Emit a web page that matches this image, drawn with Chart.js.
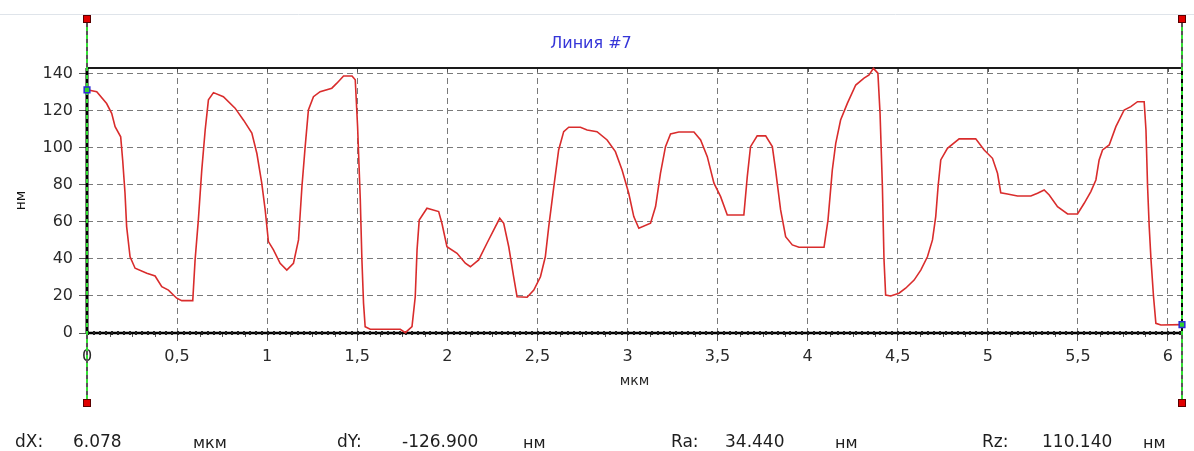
<!DOCTYPE html>
<html>
<head>
<meta charset="utf-8">
<script src="https://cdn.jsdelivr.net/npm/chart.js@4.4.1/dist/chart.umd.min.js"></script>
<style>
  html, body { margin: 0; padding: 0; background: #ffffff; }
  #wrap { width: 1194px; height: 451px; position: relative; }
  canvas { display: block; }
</style>
</head>
<body>
<div id="wrap"><canvas id="profile" width="1194" height="451"></canvas></div>
<script>
// Profile along line #7: position (µm) and height (nm)
const positionsUm = [
  0, 0.054, 0.109, 0.137, 0.156, 0.187, 0.198, 0.211, 0.22, 0.239,
  0.267, 0.332, 0.378, 0.415, 0.452, 0.498, 0.526, 0.587, 0.6, 0.618,
  0.637, 0.656, 0.674, 0.702, 0.757, 0.822, 0.869, 0.915, 0.943, 0.97,
  0.989, 1.007, 1.035, 1.072, 1.109, 1.146, 1.174, 1.193, 1.211, 1.229,
  1.257, 1.294, 1.359, 1.387, 1.424, 1.471, 1.489, 1.502, 1.517, 1.526,
  1.535, 1.544, 1.572, 1.739, 1.767, 1.804, 1.822, 1.832, 1.844, 1.887,
  1.952, 1.97, 1.998, 2.054, 2.1, 2.128, 2.174, 2.22, 2.267, 2.291,
  2.313, 2.341, 2.368, 2.387, 2.443, 2.48, 2.517, 2.544, 2.563, 2.591,
  2.618, 2.646, 2.674, 2.739, 2.776, 2.831, 2.887, 2.933, 2.97, 3.007,
  3.035, 3.063, 3.128, 3.156, 3.183, 3.211, 3.239, 3.285, 3.369, 3.406,
  3.443, 3.48, 3.517, 3.554, 3.646, 3.665, 3.683, 3.72, 3.767, 3.804,
  3.822, 3.85, 3.878, 3.915, 3.952, 4.091, 4.113, 4.137, 4.156, 4.183,
  4.221, 4.267, 4.313, 4.341, 4.365, 4.39, 4.402, 4.415, 4.424, 4.433,
  4.461, 4.507, 4.544, 4.591, 4.628, 4.665, 4.693, 4.711, 4.724, 4.739,
  4.776, 4.841, 4.933, 4.98, 5.026, 5.054, 5.072, 5.109, 5.165, 5.239,
  5.276, 5.313, 5.341, 5.387, 5.443, 5.498, 5.535, 5.572, 5.6, 5.618,
  5.637, 5.674, 5.711, 5.757, 5.794, 5.831, 5.868, 5.878, 5.887, 5.896,
  5.906, 5.92, 5.933, 5.961, 6.078
];
const heightsNm = [
  131.4, 130.4, 124, 118.7, 111.5, 106, 93.5, 75.5, 57.5, 41.2,
  35, 32.3, 30.8, 25, 23.2, 18.8, 17.5, 17.5, 39.5, 61,
  88, 109.7, 126, 129.9, 127.7, 121.5, 115, 108, 97, 81,
  66.5, 49.4, 44.9, 37.7, 34, 37.7, 50.3, 79, 100.7, 120.5,
  127.7, 130.4, 132.3, 135, 138.9, 138.9, 136.8, 111.5, 71.9, 39.5,
  16, 3.4, 2, 2, 0.2, 3.4, 19.6, 44.9, 61, 67.4,
  65.6, 59.3, 46.6, 43.1, 37.7, 35.8, 39.5, 48.5, 57.5, 62,
  59.3, 46.6, 30.4, 19.6, 19.3, 23.2, 30.4, 41.2, 57.5, 79,
  98.9, 108.8, 111.2, 111.2, 109.7, 108.8, 104.3, 98, 88.1, 75.5,
  62.9, 56.6, 59.3, 68.3, 86.3, 100.7, 107.6, 108.6, 108.6, 104.3,
  95.3, 81, 73.7, 63.8, 63.8, 84.5, 100.7, 106.5, 106.5, 100.7,
  88.1, 66.5, 52, 47.6, 46.3, 46.3, 61, 88.1, 102.5, 115.1,
  124.2, 134, 137.7, 139.5, 143, 140.4, 118.7, 79, 39.5, 20.5,
  20, 21.5, 24.2, 28.6, 34, 41.2, 50.3, 62.9, 79, 93.5,
  99.8, 104.9, 104.9, 98.9, 94.4, 86.3, 75.8, 75.1, 74, 74,
  75.5, 77.3, 74.6, 68.3, 64.3, 64.3, 70.1, 76.4, 82.7, 93.5,
  98.9, 101.6, 111.5, 120.5, 122.3, 125, 125, 109.7, 79, 57.5,
  39.5, 19.6, 5.2, 4.3, 4.5
];

const xTickValues = [0, 0.5, 1, 1.5, 2, 2.5, 3, 3.5, 4, 4.5, 5, 5.5, 6];
const yTickValues = [0, 20, 40, 60, 80, 100, 120, 140];

// Measurement readouts shown under the plot
const readoutLabels = ['dX:', 'dY:', 'Ra:', 'Rz:'];
const readoutValues = ['6.078', '-126.900', '34.440', '110.140'];
const readoutUnits = ['мкм', 'нм', 'нм', 'нм'];

const FONT = 'DejaVu Sans';
const lastIndex = positionsUm.length - 1;

// Frame, cursor lines and minor ticks around the plot area
const framePlugin = {
  id: 'profileFrame',
  beforeDatasetsDraw(chart) {
    const { ctx, chartArea: a, scales: { x } } = chart;
    ctx.save();
    // thin separator at the very top
    ctx.strokeStyle = '#dfe4ea';
    ctx.lineWidth = 1;
    ctx.beginPath(); ctx.moveTo(0, 14.5); ctx.lineTo(chart.width, 14.5); ctx.stroke();

    // minor ticks under the x axis
    ctx.strokeStyle = '#555';
    ctx.lineWidth = 1;
    for (let v = 0.125; v < x.max; v += 0.125) {
      if (Math.abs(v / 0.5 - Math.round(v / 0.5)) < 1e-6) continue;
      const px = Math.round(x.getPixelForValue(v)) + 0.5;
      ctx.beginPath(); ctx.moveTo(px, a.bottom); ctx.lineTo(px, a.bottom + 4); ctx.stroke();
    }
    // short marks on the top edge at major positions
    xTickValues.forEach(v => {
      const px = Math.round(x.getPixelForValue(v)) + 0.5;
      ctx.beginPath(); ctx.moveTo(px, a.top); ctx.lineTo(px, a.top + 4); ctx.stroke();
    });

    // plot frame
    ctx.strokeStyle = '#1a1a1a';
    ctx.lineWidth = 2;
    ctx.beginPath(); ctx.moveTo(a.left, a.top); ctx.lineTo(a.right, a.top); ctx.stroke();
    ctx.lineWidth = 3;
    ctx.strokeStyle = '#000';
    ctx.beginPath(); ctx.moveTo(a.left, a.top); ctx.lineTo(a.left, a.bottom); ctx.stroke();
    ctx.lineWidth = 2;
    ctx.beginPath(); ctx.moveTo(a.right, a.top); ctx.lineTo(a.right, a.bottom); ctx.stroke();
    // bottom axis: heavy textured black line
    ctx.lineWidth = 2.5;
    ctx.beginPath(); ctx.moveTo(a.left, a.bottom); ctx.lineTo(a.right, a.bottom); ctx.stroke();
    ctx.lineWidth = 4;
    ctx.strokeStyle = '#222';
    ctx.setLineDash([2, 4]);
    ctx.beginPath(); ctx.moveTo(a.left, a.bottom); ctx.lineTo(a.right, a.bottom); ctx.stroke();
    ctx.setLineDash([]);

    // measurement cursors at the profile ends
    [positionsUm[0], positionsUm[lastIndex]].forEach(v => {
      const px = Math.round(x.getPixelForValue(v));
      ctx.lineWidth = 2;
      ctx.strokeStyle = '#555';
      ctx.beginPath(); ctx.moveTo(px, 19); ctx.lineTo(px, a.top); ctx.stroke();
      ctx.beginPath(); ctx.moveTo(px, a.bottom); ctx.lineTo(px, 403); ctx.stroke();
      ctx.strokeStyle = '#33e033';
      ctx.setLineDash([4, 4]);
      ctx.beginPath(); ctx.moveTo(px, 19); ctx.lineTo(px, 403); ctx.stroke();
      ctx.setLineDash([]);
    });
    ctx.restore();
  },
  afterDatasetsDraw(chart) {
    const { ctx, scales: { x } } = chart;
    ctx.save();
    [positionsUm[0], positionsUm[lastIndex]].forEach(v => {
      const px = Math.round(x.getPixelForValue(v));
      [19, 403].forEach(py => {
        ctx.fillStyle = '#e00000';
        ctx.fillRect(px - 4, py - 4, 8, 8);
        ctx.strokeStyle = '#5a0000';
        ctx.lineWidth = 1;
        ctx.strokeRect(px - 3.5, py - 3.5, 7, 7);
      });
    });
    ctx.restore();
  },
  afterDraw(chart) {
    const { ctx } = chart;
    const labelX = [15, 337, 671, 982];
    const valueX = [73, 402, 725, 1042];
    const unitX = [193, 523, 835, 1143];
    ctx.save();
    ctx.fillStyle = '#1e1e1e';
    ctx.textBaseline = 'middle';
    ctx.textAlign = 'left';
    readoutLabels.forEach((t, i) => {
      ctx.font = `17px "${FONT}"`;
      ctx.fillText(t, labelX[i], 443);
      ctx.fillText(readoutValues[i], valueX[i], 443);
      ctx.font = `16px "${FONT}"`;
      ctx.fillText(readoutUnits[i], unitX[i], 444);
    });
    ctx.restore();
  }
};

const gridStyle = {
  color: '#7a7a7a',
  lineWidth: 1,
  borderDash: [6, 4],
  tickLength: 8,
  tickColor: '#555',
  tickBorderDash: [],
  tickWidth: 1
};

new Chart(document.getElementById('profile'), {
  type: 'line',
  data: {
    datasets: [{
      data: positionsUm.map((p, i) => ({ x: p, y: heightsNm[i] })),
      borderColor: '#d92c2c',
      borderWidth: 1.6,
      tension: 0,
      fill: false,
      clip: false,
      pointStyle: 'rect',
      pointRadius: c => (c.dataIndex === 0 || c.dataIndex === lastIndex) ? 4 : 0,
      pointBackgroundColor: '#2fd62f',
      pointBorderColor: '#2b2bd6',
      pointBorderWidth: 1.5
    }]
  },
  options: {
    responsive: false,
    devicePixelRatio: 1,
    animation: false,
    layout: { padding: { left: 0, right: 12, top: 0, bottom: 56 } },
    plugins: {
      legend: { display: false },
      tooltip: { enabled: false },
      title: {
        display: true,
        text: 'Линия #7',
        color: '#3535d8',
        font: { family: FONT, size: 16, weight: 'normal' },
        padding: { top: 34, bottom: 14.8 }
      }
    },
    scales: {
      x: {
        type: 'linear',
        min: 0,
        max: positionsUm[lastIndex],
        afterBuildTicks: s => { s.ticks = xTickValues.map(v => ({ value: v })); },
        afterFit: s => { s.height = 62; },
        ticks: {
          callback: v => String(v).replace('.', ','),
          font: { family: FONT, size: 16 },
          color: '#2a2a2a',
          padding: 6,
          maxRotation: 0,
          autoSkip: false
        },
        grid: gridStyle,
        border: { display: false, dash: [6, 4] },
        title: {
          display: true,
          text: 'мкм',
          color: '#2a2a2a',
          font: { family: FONT, size: 14 },
          padding: { top: 0, bottom: 5 }
        }
      },
      y: {
        type: 'linear',
        min: 0,
        max: 143.2,
        afterBuildTicks: s => { s.ticks = yTickValues.map(v => ({ value: v })); },
        afterFit: s => { s.width = 87; },
        ticks: {
          font: { family: FONT, size: 16 },
          color: '#2a2a2a',
          padding: 6
        },
        grid: gridStyle,
        border: { display: false, dash: [6, 4] },
        title: {
          display: true,
          text: 'нм',
          color: '#111',
          font: { family: FONT, size: 14 },
          padding: { top: 13, bottom: 0 }
        }
      }
    }
  },
  plugins: [framePlugin]
});
</script>
</body>
</html>
